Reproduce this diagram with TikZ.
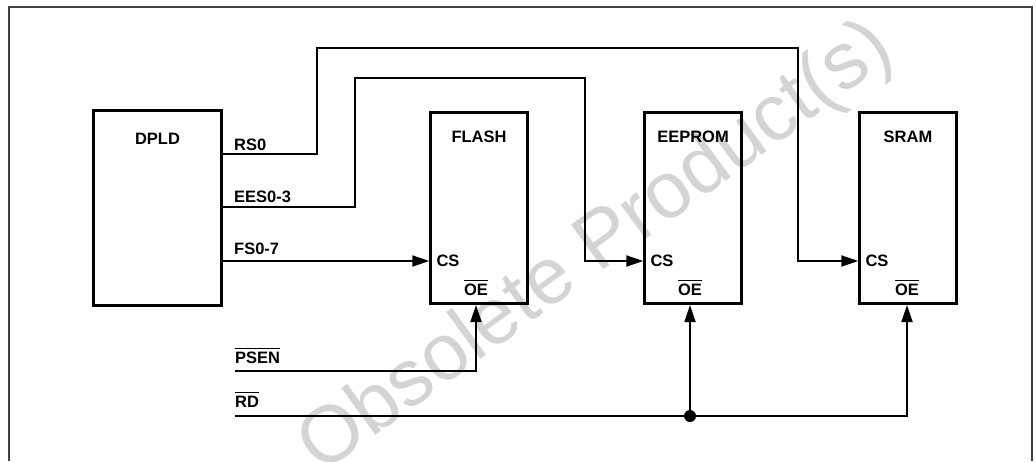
\documentclass[tikz,border=0pt]{standalone}
\usepackage{fontspec}
\setmainfont{Liberation Sans}
\usepackage{tikz}
\usetikzlibrary{positioning, arrows.meta}

% active-low signal name
\newcommand{\notsig}[1]{\leavevmode\vbox{\hrule height 1.3pt\kern 2.6pt\hbox{#1}}}

\tikzset{
    chip/.style={draw, line width=3pt, minimum width=96.4pt, minimum height=191pt, inner sep=0pt},
    sig/.style={line width=1.8pt},
    tip/.style={-{Triangle[length=17pt,width=11pt]}},
    lbl/.style={font=\bfseries\fontsize{16.5}{19}\selectfont, inner sep=0pt},
    frame/.style={draw=black!75, line width=1.6pt},
    watermark/.style={text=black!17, font=\fontsize{80}{80}\selectfont, inner sep=0pt, rotate=36}
}

\begin{document}
\begin{tikzpicture}[x=1pt, y=-1pt]
        \useasboundingbox (0,0) rectangle (1036,461);

        \node[watermark] (wm) at (597,249) {Obsolete Product(s)};

        \draw[frame] (9,461) -- (9,7) -- (1032,7) -- (1032,461);

        % DPLD
        \node[chip, minimum width=128pt, minimum height=195pt] (dpld) at (157.5,208) {};
        \node[lbl, anchor=base] (dpld-name) at ([yshift=-35pt]dpld.north) {DPLD};
        \coordinate (dpld-rs) at (dpld.east |- 0,154);
        \coordinate (dpld-ees) at (dpld.east |- 0,207);
        \coordinate (dpld-fs) at (dpld.east |- 0,261);
        \node[lbl, anchor=base west] (rs-lbl) at (234,150) {RS0};
        \node[lbl, anchor=base west] (ees-lbl) at (234,202) {EES0-3};
        \node[lbl, anchor=base west] (fs-lbl) at (234,254) {FS0-7};

        % memories
        \foreach \n/\t/\x/\oex in {flash/FLASH/479/476, eeprom/EEPROM/693/690, sram/SRAM/908/907} {
            \node[chip] (\n) at (\x,208) {};
            \node[lbl, anchor=base] (\n-name) at ([yshift=-31pt]\n.north) {\t};
            \node[lbl, anchor=west] (\n-cslbl) at ([xshift=7pt]\n.west |- 0,261) {CS};
            \node[lbl, anchor=base] (\n-oelbl) at (\oex,295) {\notsig{OE}};
            \coordinate (\n-cs) at (\n.west |- 0,261);
            \coordinate (\n-oe) at (\n.south -| \oex,0);
        }

        % chip selects
        \draw[sig, tip] (dpld-rs) -- (317,154) -- (317,48) -- (798,48) |- (sram-cs);
        \draw[sig, tip] (dpld-ees) -- (355,207) -- (355,78) -- (585,78) |- (eeprom-cs);
        \draw[sig, tip] (dpld-fs) -- (flash-cs);

        % output enables
        \coordinate (psen) at (235,371);
        \coordinate (rd) at (235,416);
        \node[lbl, anchor=base west] (psen-lbl) at (235,363) {\notsig{PSEN}};
        \node[lbl, anchor=base west] (rd-lbl) at (235,407) {\notsig{RD}};
        \draw[sig, tip] (psen) -| (flash-oe);
        \draw[sig, tip] (rd) -| (sram-oe);
        \coordinate (tap) at (rd -| eeprom-oe);
        \draw[sig, tip] (tap) -- (eeprom-oe);
        \fill (tap) circle (6pt);
\end{tikzpicture}
\end{document}
